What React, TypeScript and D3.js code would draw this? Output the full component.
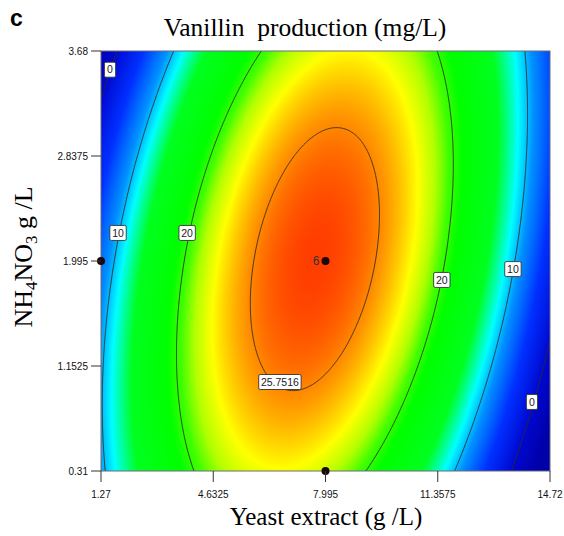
import React, { useMemo } from 'react';
import * as d3 from 'd3';

// axes (actual units)
const xTickValues = [1.27, 4.6325, 7.995, 11.3575, 14.72];
const xTickLabels = ['1.27', '4.6325', '7.995', '11.3575', '14.72'];
const yTickValues = [0.31, 1.1525, 1.995, 2.8375, 3.68];
const yTickLabels = ['0.31', '1.1525', '1.995', '2.8375', '3.68'];

// quadratic response model in coded units:
// b0, b1 (yeast), b2 (NH4NO3), b11, b22, b12
const modelCoef = [27.3, -2.12, 0.4, -21.8, -4.6, 6.73];
const codedCenter = [7.995, 1.995];
const codedHalf = [6.725, 1.685];

const contourLevels = [0, 10, 20, 25.7516];

const contourLabels = [
  { text: '0', x: 1.54, y: 3.53 },
  { text: '10', x: 1.78, y: 2.22 },
  { text: '20', x: 3.85, y: 2.22 },
  { text: '25.7516', x: 6.63, y: 1.024 },
  { text: '20', x: 11.48, y: 1.843 },
  { text: '10', x: 13.61, y: 1.93 },
  { text: '0', x: 14.18, y: 0.864 },
];

const designX = [7.995, 1.27, 7.995];
const designY = [1.995, 1.995, 0.31];

const colorStops = [-5, 0, 5, 9, 11.5, 14.5, 19, 20.5, 21.8, 23.3, 24.9, 26.2, 28];
const colorList = ['#0000a8', '#0008d0', '#0030ff', '#0090ff', '#00ffff', '#00ff20',
  '#00ff00', '#40ff00', '#b0ff00', '#ffff00', '#ffb000', '#ff7000', '#ff2000'];

const W = 564, H = 536;
const left = 101, right = 550, top = 51, bottom = 471;

function response(x: number, y: number) {
  const a = (x - codedCenter[0]) / codedHalf[0];
  const b = (y - codedCenter[1]) / codedHalf[1];
  const c = modelCoef;
  return c[0] + c[1] * a + c[2] * b + c[3] * a * a + c[4] * b * b + c[5] * a * b;
}

export default function App() {
  const xScale = d3.scaleLinear().domain([1.27, 14.72]).range([left, right]);
  const yScale = d3.scaleLinear().domain([0.31, 3.68]).range([bottom, top]);
  const color = d3.scaleLinear<string>().domain(colorStops).range(colorList)
    .interpolate(d3.interpolateRgb).clamp(true);

  const heatmap = useMemo(() => {
    const w = right - left, h = bottom - top;
    const canvas = document.createElement('canvas');
    canvas.width = w; canvas.height = h;
    const ctx = canvas.getContext('2d');
    if (!ctx) return '';
    const img = ctx.createImageData(w, h);
    for (let j = 0; j < h; j++) {
      for (let i = 0; i < w; i++) {
        const z = response(xScale.invert(left + i + 0.5), yScale.invert(top + j + 0.5));
        const c = d3.rgb(color(z));
        const k = (j * w + i) * 4;
        img.data[k] = c.r; img.data[k + 1] = c.g; img.data[k + 2] = c.b; img.data[k + 3] = 255;
      }
    }
    ctx.putImageData(img, 0, 0);
    return canvas.toDataURL();
  }, []);

  const contourPaths = useMemo(() => {
    const nx = 225, ny = 210;
    const dx = (14.72 - 1.27) / (nx - 1), dy = (3.68 - 0.31) / (ny - 1);
    const values: number[] = new Array(nx * ny);
    for (let j = 0; j < ny; j++)
      for (let i = 0; i < nx; i++)
        values[j * nx + i] = response(1.27 + i * dx, 3.68 - j * dy);
    const proj = d3.geoTransform({
      point(px: number, py: number) {
        this.stream.point(xScale(1.27 + (px - 0.5) * dx), yScale(3.68 - (py - 0.5) * dy));
      },
    });
    const path = d3.geoPath(proj);
    return d3.contours().size([nx, ny]).thresholds(contourLevels)(values)
      .map((c) => path(c as any) || '');
  }, []);

  const tickFont = "'Liberation Sans Narrow', 'Arial Narrow', sans-serif";
  const serif = "'Liberation Serif', 'Times New Roman', serif";

  return (
    <svg width={W} height={H} style={{ position: 'absolute', left: 0, top: 0, background: '#fff' }}>
      <defs>
        <clipPath id="plot-clip">
          <rect x={left} y={top} width={right - left} height={bottom - top} />
        </clipPath>
      </defs>
      <text x={10} y={26} fontFamily="'Liberation Sans', Arial, sans-serif" fontWeight="bold" fontSize={23}>c</text>
      <text x={305} y={36} textAnchor="middle" fontFamily={serif}
        fontSize={25.5} style={{ whiteSpace: 'pre' }}>Vanillin  production (mg/L)</text>

      <image href={heatmap} x={left} y={top} width={right - left} height={bottom - top} preserveAspectRatio="none" />
      <g clipPath="url(#plot-clip)">
        {contourPaths.map((d, i) => (
          <path key={i} d={d} fill="none" stroke="#2b2b22" strokeWidth={1} strokeOpacity={0.85} />
        ))}
      </g>
      <rect x={left} y={top} width={right - left} height={bottom - top} fill="none" stroke="#6a6a7a" strokeWidth={1} />

      {contourLabels.map((l, i) => {
        const w = l.text.length * 5.2 + 6;
        const cx = xScale(l.x), cy = yScale(l.y);
        return (
          <g key={i}>
            <rect x={cx - w / 2} y={cy - 7.5} width={w} height={15} rx={1.5} fill="#fff" stroke="#333" strokeWidth={0.9} />
            <text x={cx} y={cy} dy="0.35em" textAnchor="middle" fontFamily={tickFont} fontSize={10.5} fill="#1a1a2a">{l.text}</text>
          </g>
        );
      })}

      {designX.map((x, i) => (
        <circle key={i} cx={xScale(x)} cy={yScale(designY[i])} r={4} fill="#1c0808" />
      ))}
      <text x={xScale(designX[0]) - 6} y={yScale(designY[0])} dy="0.35em" textAnchor="end"
        fontFamily="'Liberation Sans', Arial, sans-serif" fontSize={12} fill="#333">6</text>

      {yTickValues.map((v, i) => (
        <g key={i}>
          <line x1={left - 10} x2={left} y1={yScale(v)} y2={yScale(v)} stroke="#333" />
          <text x={left - 13} y={yScale(v)} dy="0.35em" textAnchor="end" fontFamily={tickFont} fontSize={10} fill="#111">{yTickLabels[i]}</text>
        </g>
      ))}
      {xTickValues.map((v, i) => (
        <g key={i}>
          <line x1={xScale(v)} x2={xScale(v)} y1={bottom} y2={bottom + 11} stroke="#333" />
          <text x={xScale(v)} y={bottom + 23} dy="0.35em" textAnchor="middle" fontFamily={tickFont} fontSize={10} fill="#111">{xTickLabels[i]}</text>
        </g>
      ))}

      <text x={326} y={525} textAnchor="middle" fontFamily={serif} fontSize={25}>Yeast extract (g /L)</text>
      <text transform="translate(32,257) rotate(-90)" textAnchor="middle" fontFamily={serif} fontSize={26}>
        NH<tspan fontSize={17} dy={5}>4</tspan><tspan dy={-5}>NO</tspan><tspan fontSize={17} dy={5}>3</tspan><tspan dy={-5}> g /L</tspan>
      </text>
    </svg>
  );
}
